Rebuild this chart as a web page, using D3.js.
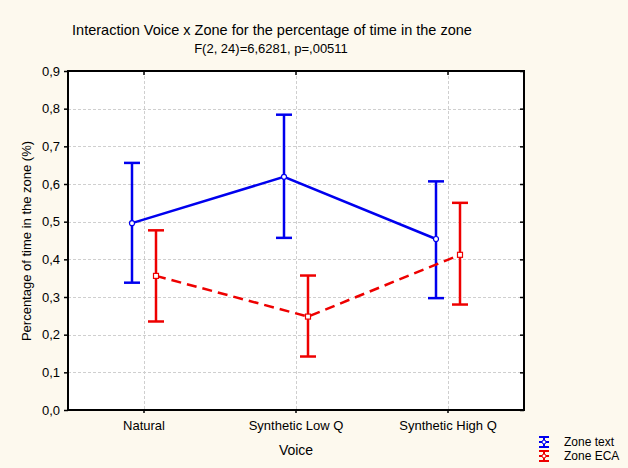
<!DOCTYPE html>
<html><head><meta charset="utf-8">
<script src="https://cdn.jsdelivr.net/npm/d3@7"></script>
<style>body{margin:0;background:#fdf9ee;}svg{display:block;font-family:"Liberation Sans",Arial,sans-serif;}</style>
</head><body>
<script>
const categories = ["Natural", "Synthetic Low Q", "Synthetic High Q"];
const seriesNames = ["Zone text", "Zone ECA"];
const textMean = [0.496, 0.619, 0.454];
const textLow = [0.338, 0.457, 0.297];
const textHigh = [0.656, 0.784, 0.607];
const ecaMean = [0.356, 0.248, 0.412];
const ecaLow = [0.235, 0.142, 0.280];
const ecaHigh = [0.477, 0.357, 0.550];
const yTicks = [0, 0.1, 0.2, 0.3, 0.4, 0.5, 0.6, 0.7, 0.8, 0.9];

const W = 628, H = 468;
const L = 68, R = 524, T = 71, B = 410;
const svg = d3.select("body").append("svg").attr("width", W).attr("height", H);
svg.append("rect").attr("width", W).attr("height", H).attr("fill", "#fdf9ee");
svg.append("rect").attr("x", L).attr("y", T).attr("width", R - L).attr("height", B - T).attr("fill", "#fff");

const x = d3.scaleBand().domain(categories).range([L, R]);
const xc = c => x(c) + x.bandwidth() / 2;
const y = d3.scaleLinear().domain([0, 0.9]).range([B, T]);
const fmt = d => d3.format(".1f")(d).replace(".", ",");

// grid
const g = svg.append("g").attr("stroke", "#cfcfcf").attr("stroke-width", 1).attr("stroke-dasharray", "3,2");
g.selectAll("line.h").data(yTicks.slice(1, -1)).enter().append("line")
  .attr("x1", L).attr("x2", R).attr("y1", d => Math.round(y(d)) + 0.5).attr("y2", d => Math.round(y(d)) + 0.5);
g.selectAll("line.v").data(categories).enter().append("line")
  .attr("y1", T).attr("y2", B).attr("x1", d => Math.round(xc(d)) + 0.5).attr("x2", d => Math.round(xc(d)) + 0.5);

// axes
const axL = svg.append("g").attr("transform", `translate(${L},0)`)
  .call(d3.axisLeft(y).tickValues(yTicks).tickFormat(fmt).tickSize(4).tickPadding(4));
const axR = svg.append("g").attr("transform", `translate(${R},0)`)
  .call(d3.axisLeft(y).tickValues(yTicks).tickFormat("").tickSize(4));
const axB = svg.append("g").attr("transform", `translate(0,${B})`)
  .call(d3.axisBottom(x).tickSize(3).tickPadding(8));
const axT = svg.append("g").attr("transform", `translate(0,${T})`)
  .call(d3.axisBottom(x).tickSize(4).tickFormat(""));
[axL, axR, axB, axT].forEach(a => {
  a.select(".domain").remove();
  a.selectAll(".tick line").attr("stroke", "#000").attr("stroke-width", 1.5);
  a.selectAll("text").attr("font-size", 13).attr("fill", "#000")
    .attr("font-family", "Liberation Sans, Arial, sans-serif");
});
svg.append("rect").attr("x", L).attr("y", T).attr("width", R - L).attr("height", B - T)
  .attr("fill", "none").attr("stroke", "#000").attr("stroke-width", 2);

// series
const off = 12;
const series = [
  {name: seriesNames[0], mean: textMean, lo: textLow, hi: textHigh, color: "#0000ee", dx: -off, dash: null, shape: "circle"},
  {name: seriesNames[1], mean: ecaMean, lo: ecaLow, hi: ecaHigh, color: "#ee0000", dx: off, dash: "10,6", shape: "square"}
];
series.forEach(s => {
  const pts = categories.map((c, i) => ({x: xc(c) + s.dx, m: s.mean[i], lo: s.lo[i], hi: s.hi[i]}));
  const gs = svg.append("g");
  gs.append("path").datum(pts)
    .attr("d", d3.line().x(d => d.x).y(d => y(d.m)))
    .attr("fill", "none").attr("stroke", s.color).attr("stroke-width", 2.5)
    .attr("stroke-dasharray", s.dash);
  pts.forEach(p => {
    gs.append("line").attr("x1", p.x).attr("x2", p.x).attr("y1", y(p.lo)).attr("y2", y(p.hi))
      .attr("stroke", s.color).attr("stroke-width", 2.5);
    [p.lo, p.hi].forEach(v => gs.append("line").attr("x1", p.x - 8).attr("x2", p.x + 8)
      .attr("y1", y(v)).attr("y2", y(v)).attr("stroke", s.color).attr("stroke-width", 2.5));
    if (s.shape === "circle") {
      gs.append("circle").attr("cx", p.x).attr("cy", y(p.m)).attr("r", 2.5)
        .attr("fill", "#fff").attr("stroke", s.color).attr("stroke-width", 1.2);
    } else {
      gs.append("rect").attr("x", p.x - 2.5).attr("y", y(p.m) - 2.5).attr("width", 5).attr("height", 5)
        .attr("fill", "#fff").attr("stroke", s.color).attr("stroke-width", 1.2);
    }
  });
});

// titles
svg.append("text").attr("x", 272).attr("y", 35).attr("text-anchor", "middle").attr("font-size", 14.5)
  .text("Interaction Voice x Zone for the percentage of time in the zone");
svg.append("text").attr("x", 271).attr("y", 53).attr("text-anchor", "middle").attr("font-size", 13)
  .text("F(2, 24)=6,6281, p=,00511");
svg.append("text").attr("x", 296).attr("y", 455).attr("text-anchor", "middle").attr("font-size", 14).text("Voice");
svg.append("text").attr("transform", "translate(31,241) rotate(-90)").attr("text-anchor", "middle")
  .attr("font-size", 13).text("Percentage of time in the zone (%)");

// legend
series.forEach((s, i) => {
  const cy = 442 + i * 14, lx = 544;
  const lg = svg.append("g").attr("stroke", s.color).attr("stroke-width", 2);
  lg.append("line").attr("x1", lx - 5).attr("x2", lx + 5).attr("y1", cy - 5).attr("y2", cy - 5);
  lg.append("line").attr("x1", lx - 5).attr("x2", lx + 5).attr("y1", cy + 5).attr("y2", cy + 5);
  lg.append("line").attr("x1", lx - 5).attr("x2", lx + 5).attr("y1", cy).attr("y2", cy);
  lg.append("line").attr("x1", lx).attr("x2", lx).attr("y1", cy - 5).attr("y2", cy + 5);
  lg.append("circle").attr("cx", lx).attr("cy", cy).attr("r", 2).attr("fill", "#fff").attr("stroke-width", 1);
  svg.append("text").attr("x", 564).attr("y", cy + 4).attr("font-size", 12).text(s.name);
});
</script>
</body></html>
